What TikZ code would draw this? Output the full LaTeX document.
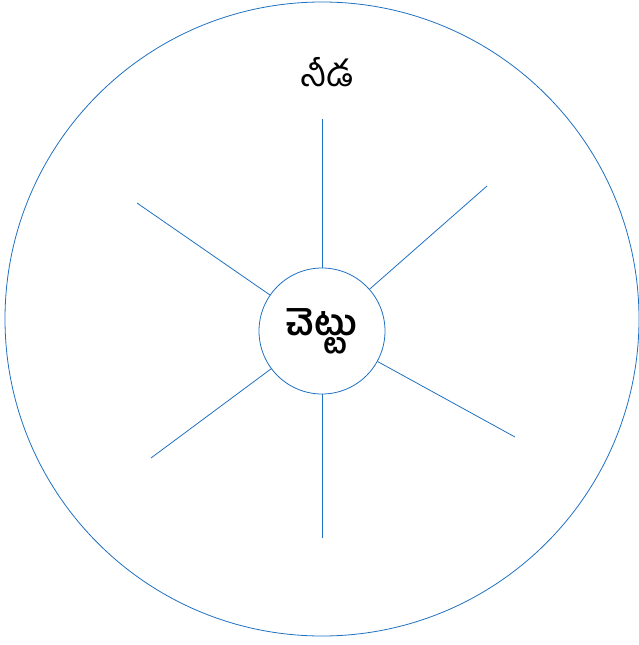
\documentclass[tikz,border=0pt]{standalone}
\usepackage{fontspec}
\newfontfamily\telugufont[Script=Telugu]{Hind Guntur}
\usetikzlibrary{positioning}
\definecolor{spokeblue}{HTML}{1F70C1}

\begin{document}
\begin{tikzpicture}[
  x=1pt, y=-1pt,
  rim/.style={draw=spokeblue, line width=0.8pt, circle, inner sep=0pt},
  spoke/.style={draw=spokeblue, line width=0.8pt},
  word/.style={font=\telugufont\fontsize{36}{40}\selectfont}
]
  \useasboundingbox (0,0) rectangle (638,645);

  \node[rim, minimum size=634pt] (outer) at (322,319) {};
  \node[rim, minimum size=126pt, word, font=\telugufont\bfseries\fontsize{36}{40}\selectfont] (tree) at (322,331) {చెట్టు};
  \node[word] (shade) at (327,72) {నీడ};

  \coordinate (e1) at (322,119);
  \coordinate (e2) at (487,186);
  \coordinate (e3) at (515,437);
  \coordinate (e4) at (322,538);
  \coordinate (e5) at (151,458);
  \coordinate (e6) at (137,203);

  \draw[spoke] (tree) -- (e1);
  \draw[spoke] (tree) -- (e2);
  \draw[spoke] (tree) -- (e3);
  \draw[spoke] (tree) -- (e4);
  \draw[spoke] (tree) -- (e5);
  \draw[spoke] (tree) -- (e6);

\end{tikzpicture}
\end{document}
